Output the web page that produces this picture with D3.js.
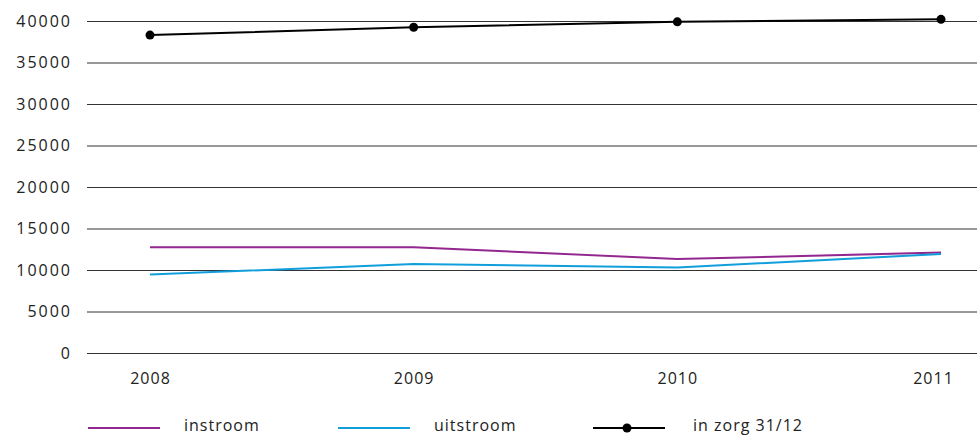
<!DOCTYPE html>
<html>
<head>
<meta charset="utf-8">
<script src="https://cdnjs.cloudflare.com/ajax/libs/d3/7.8.5/d3.min.js"></script>
<style>
  body { margin: 0; background: #fff; }
  text { font-family: "Open Sans", sans-serif; fill: #222; }
</style>
</head>
<body>
<svg width="977" height="436"></svg>
<script>
var width = 977;
var height = 436;

var years = [2008, 2009, 2010, 2011];
var instroom = [12750, 12750, 11320, 12100];
var uitstroom = [9450, 10720, 10300, 11930];
var inZorg = [38300, 39250, 39900, 40200];
var yTicks = [0, 5000, 10000, 15000, 20000, 25000, 30000, 35000, 40000];

var svg = d3.select('svg');

var xScale = d3.scaleLinear()
	.domain([2008, 2011])
	.range([150, 941]);

var yScale = d3.scaleLinear()
	.domain([0, 40000])
	.range([353, 21]);

// horizontal grid
var yAxis = d3.axisLeft(yScale)
	.tickValues(yTicks)
	.tickFormat(d => d)
	.tickSize(-(width - 87))
	.tickPadding(15);

svg.append('g')
	.attr('transform', 'translate(87,0)')
	.call(yAxis)
	.call(g => g.select('.domain').remove())
	.call(g => g.selectAll('.tick line').attr('stroke', '#333').attr('stroke-width', 1))
	.call(g => g.selectAll('.tick text')
		.style('font-size', '16px')
		.style('letter-spacing', '2px')
		.attr('fill', '#222'));

// x labels
var xAxis = d3.axisBottom(xScale)
	.tickValues(years)
	.tickFormat(d => d)
	.tickSize(0)
	.tickPadding(20);

svg.append('g')
	.attr('transform', 'translate(0,353)')
	.call(xAxis)
	.call(g => g.select('.domain').remove())
	.call(g => g.selectAll('.tick text')
		.style('font-size', '16px')
		.style('letter-spacing', '1px')
		.attr('fill', '#222'))
	.call(g => g.selectAll('.tick text').filter(d => d === 2011).attr('dx', -8));

var line = d3.line()
	.x((d, i) => xScale(years[i]))
	.y(d => yScale(d));

svg.append('path')
	.datum(instroom)
	.attr('fill', 'none')
	.attr('stroke', '#92278f')
	.attr('stroke-width', 2)
	.attr('d', line);

svg.append('path')
	.datum(uitstroom)
	.attr('fill', 'none')
	.attr('stroke', '#119fdb')
	.attr('stroke-width', 2)
	.attr('d', line);

svg.append('path')
	.datum(inZorg)
	.attr('fill', 'none')
	.attr('stroke', '#000')
	.attr('stroke-width', 2)
	.attr('d', line);

svg.selectAll('circle.zorg')
	.data(inZorg)
	.enter()
	.append('circle')
		.attr('class', 'zorg')
		.attr('cx', (d, i) => xScale(years[i]))
		.attr('cy', d => yScale(d))
		.attr('r', 4.5)
		.attr('fill', '#000');

// legend
var legend = [
	{ name: 'instroom', color: '#92278f', x: 88, dot: false },
	{ name: 'uitstroom', color: '#119fdb', x: 338, dot: false },
	{ name: 'in zorg 31/12', color: '#000', x: 593, dot: true }
];

var lg = svg.selectAll('g.legend')
	.data(legend)
	.enter()
	.append('g')
		.attr('class', 'legend')
		.attr('transform', d => 'translate(' + d.x + ',428)');

lg.append('line')
	.attr('x1', 0)
	.attr('x2', 72)
	.attr('stroke', d => d.color)
	.attr('stroke-width', 2);

lg.filter(d => d.dot)
	.append('circle')
		.attr('cx', 34)
		.attr('r', 4.5)
		.attr('fill', '#000');

lg.append('text')
	.attr('x', d => d.dot ? 100 : 96)
	.attr('y', 3)
	.style('font-size', '16px')
	.style('letter-spacing', '1px')
	.text(d => d.name);
</script>
</body>
</html>
